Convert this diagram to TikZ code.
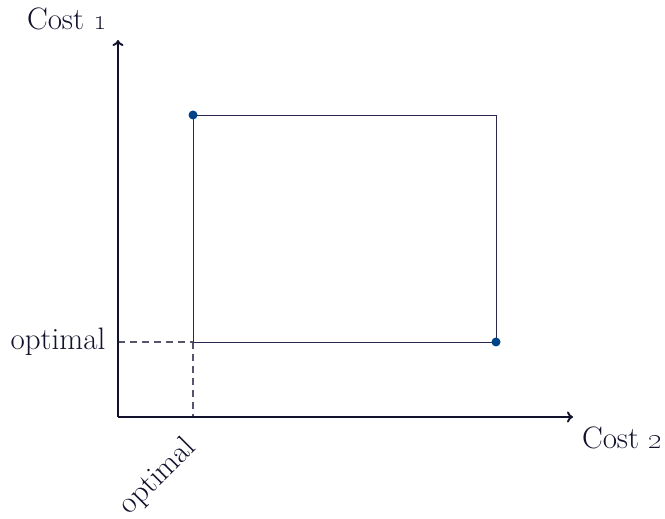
\documentclass[tikz,border=0pt]{standalone}
\usetikzlibrary{arrows.meta}
\definecolor{axiscol}{RGB}{18,18,45}
\definecolor{rectcol}{RGB}{40,40,80}
\definecolor{dashcol}{RGB}{85,85,110}
\definecolor{dotcol}{RGB}{0,68,136}
\begin{document}
\begin{tikzpicture}[x=1pt,y=1pt,
  axis/.style={draw=axiscol,line width=1.9pt,-{To[length=6pt,width=11pt]}},
  box/.style={draw=rectcol,line width=0.9pt},
  guide/.style={draw=dashcol,line width=1.1pt,dash pattern=on 7pt off 5pt},
  lbl/.style={text=axiscol,inner sep=0pt,font=\fontsize{31}{37}\selectfont},
  dotstyle/.style={fill=dotcol,draw=none,circle,minimum size=9pt,inner sep=0pt}]
\useasboundingbox (0,0) rectangle (665,519);
\coordinate (O) at (118,102);
\coordinate (ytip) at (118,479);
\coordinate (xtip) at (573,102);
\coordinate (tl) at (193,404);
\coordinate (tr) at (496,404);
\coordinate (br) at (496,177);
\coordinate (bl) at (193,177);
\coordinate (yopt) at (118,177);
\coordinate (xopt) at (193,102);
\draw[guide] (yopt) -- (bl);
\draw[guide] (bl) -- (xopt);
\draw[box] (tl) -- (tr) -- (br) -- (bl) -- cycle;
\draw[axis] (O) -- (ytip);
\draw[axis] (O) -- (xtip);
\node[dotstyle] (p1) at (tl) {};
\node[dotstyle] (p2) at (br) {};
\node[lbl] (c1) at (67,500) {Cost \oldstylenums{1}};
\node[lbl] (c2) at (622,81) {Cost \oldstylenums{2}};
\node[lbl] (o1) at (58,177) {optimal};
\node[lbl,rotate=45] (o2) at (158,42) {optimal};
\end{tikzpicture}
\end{document}
